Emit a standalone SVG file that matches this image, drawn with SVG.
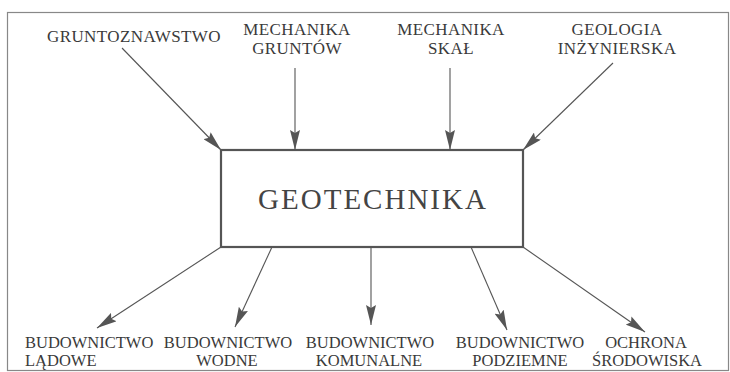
<svg xmlns="http://www.w3.org/2000/svg" width="730" height="372" viewBox="0 0 730 372">
<style>
.lbl{font-family:"Liberation Serif","Times New Roman",serif;font-size:17px;letter-spacing:0.4px;fill:#3a3a3a;text-anchor:middle}
.blbl{font-family:"Liberation Serif","Times New Roman",serif;font-size:16.5px;fill:#3a3a3a;text-anchor:middle}
.title{font-family:"Liberation Serif","Times New Roman",serif;font-size:29px;fill:#444;text-anchor:middle;letter-spacing:2px}
.conn line{stroke:#555;stroke-width:1.1;marker-end:url(#ah)}
</style>
<defs>
<marker id="ah" markerUnits="userSpaceOnUse" markerWidth="20" markerHeight="10" refX="20" refY="5" orient="auto">
<path d="M0,0 L20,5 L0,10 L3,5 z" fill="#555"/>
</marker>
</defs>
<rect x="7.5" y="12.5" width="721" height="358" fill="#fff" stroke="#888" stroke-width="1.2"/>
<g id="geotechnika">
<rect x="221" y="150" width="302" height="97" fill="#fff" stroke="#555" stroke-width="2.2"/>
<text class="title" x="373" y="209">GEOTECHNIKA</text>
</g>
<g id="gruntoznawstwo"><text class="lbl" x="134" y="42">GRUNTOZNAWSTWO</text></g>
<g id="mechanika-gruntow"><text class="lbl" x="297" y="35">MECHANIKA</text><text class="lbl" x="297" y="54">GRUNTÓW</text></g>
<g id="mechanika-skal"><text class="lbl" x="451" y="35">MECHANIKA</text><text class="lbl" x="451" y="54">SKAŁ</text></g>
<g id="geologia"><text class="lbl" x="617" y="35">GEOLOGIA</text><text class="lbl" x="617" y="54">INŻYNIERSKA</text></g>
<g id="bud-ladowe"><text class="blbl" x="25" y="348" style="text-anchor:start">BUDOWNICTWO</text><text class="blbl" x="25" y="366" style="text-anchor:start">LĄDOWE</text></g>
<g id="bud-wodne"><text class="blbl" x="228" y="348">BUDOWNICTWO</text><text class="blbl" x="227" y="366">WODNE</text></g>
<g id="bud-komunalne"><text class="blbl" x="370" y="348">BUDOWNICTWO</text><text class="blbl" x="369" y="366">KOMUNALNE</text></g>
<g id="bud-podziemne"><text class="blbl" x="520" y="348">BUDOWNICTWO</text><text class="blbl" x="520" y="366">PODZIEMNE</text></g>
<g id="ochrona"><text class="blbl" x="646" y="348">OCHRONA</text><text class="blbl" x="647" y="366">ŚRODOWISKA</text></g>
<g class="conn" id="connectors">
<line x1="122" y1="48" x2="221" y2="150"/>
<line x1="295" y1="68" x2="295" y2="150"/>
<line x1="450" y1="68" x2="450" y2="150"/>
<line x1="613" y1="63" x2="523" y2="150"/>
<line x1="221" y1="247" x2="97" y2="328"/>
<line x1="272" y1="247" x2="235" y2="327"/>
<line x1="371" y1="247" x2="371" y2="325"/>
<line x1="471" y1="247" x2="507" y2="330"/>
<line x1="523" y1="247" x2="645" y2="332"/>
</g>
</svg>
